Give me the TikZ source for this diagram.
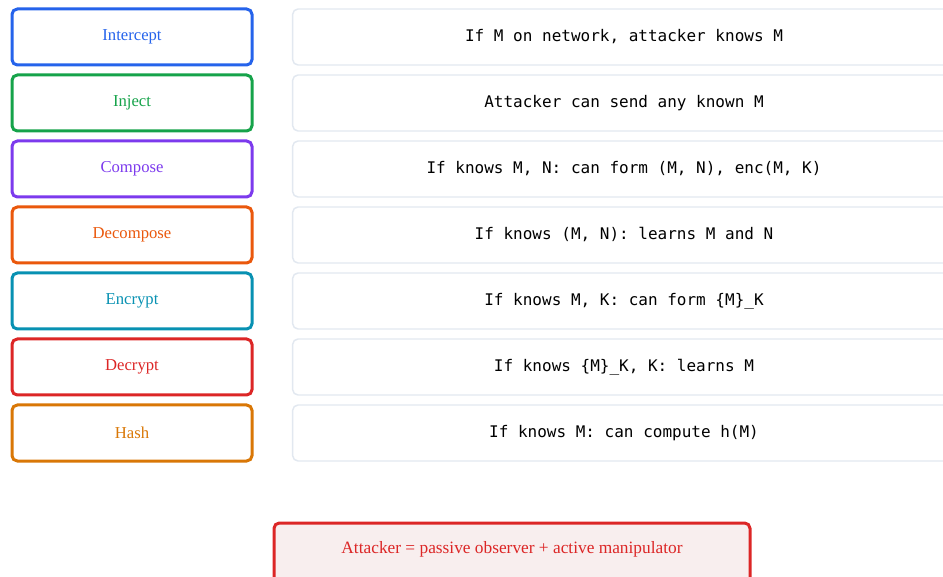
\documentclass[tikz,border=0pt]{standalone}
\usepackage{fontspec}
\usepackage{tikz}
\setmainfont{Liberation Serif}
\setmonofont{DejaVu Sans Mono}
\definecolor{opblue}{HTML}{2563EB}
\definecolor{opgreen}{HTML}{16A34A}
\definecolor{oppurple}{HTML}{7C3AED}
\definecolor{oporange}{HTML}{EA580C}
\definecolor{opcyan}{HTML}{0891B2}
\definecolor{opred}{HTML}{DC2626}
\definecolor{opamber}{HTML}{D97706}
\definecolor{rulegray}{HTML}{E2E8F0}
\definecolor{noteback}{HTML}{F8EEEE}

\begin{document}
\begin{tikzpicture}[x=0.75pt,y=-0.75pt,
  opbox/.style={draw=#1,text=#1,line width=2.25pt,rounded corners=4pt,
    minimum width=180pt,minimum height=42pt,font=\fontsize{12.5}{15}\selectfont},
  rulebox/.style={draw=rulegray,fill=white,line width=1.1pt,rounded corners=4pt,
    minimum width=497pt,minimum height=42pt,font=\ttfamily\fontsize{12}{14}\selectfont}]
\useasboundingbox (0,0) rectangle (943,577);
\clip (0,0) rectangle (943,577);

% operations on the left, rules on the right
\node [opbox=opblue]   (intercept) at (132,37)  {Intercept};
\node [opbox=opgreen]  (inject)    at (132,103) {Inject};
\node [opbox=oppurple] (compose)   at (132,169) {Compose};
\node [opbox=oporange] (decompose) at (132,235) {Decompose};
\node [opbox=opcyan]   (encrypt)   at (132,301) {Encrypt};
\node [opbox=opred]    (decrypt)   at (132,367) {Decrypt};
\node [opbox=opamber]  (hash)      at (132,433) {Hash};

\node [rulebox] (r-intercept) at (624,37)  {If M on network, attacker knows M};
\node [rulebox] (r-inject)    at (624,103) {Attacker can send any known M};
\node [rulebox] (r-compose)   at (624,169) {If knows M, N: can form (M, N), enc(M, K)};
\node [rulebox] (r-decompose) at (624,235) {If knows (M, N): learns M and N};
\node [rulebox] (r-encrypt)   at (624,301) {If knows M, K: can form \{M\}\_K};
\node [rulebox] (r-decrypt)   at (624,367) {If knows \{M\}\_K, K: learns M};
\node [rulebox] (r-hash)      at (624,433) {If knows M: can compute h(M)};

% summary
\node [draw=opred,fill=noteback,text=opred,line width=2.25pt,rounded corners=4pt,
  anchor=north,minimum width=357pt,inner ysep=0pt,text height=22.5pt,text depth=40pt,
  font=\fontsize{13}{15}\selectfont] (summary) at (512,521.5)
  {Attacker = passive observer + active manipulator};
\end{tikzpicture}
\end{document}
